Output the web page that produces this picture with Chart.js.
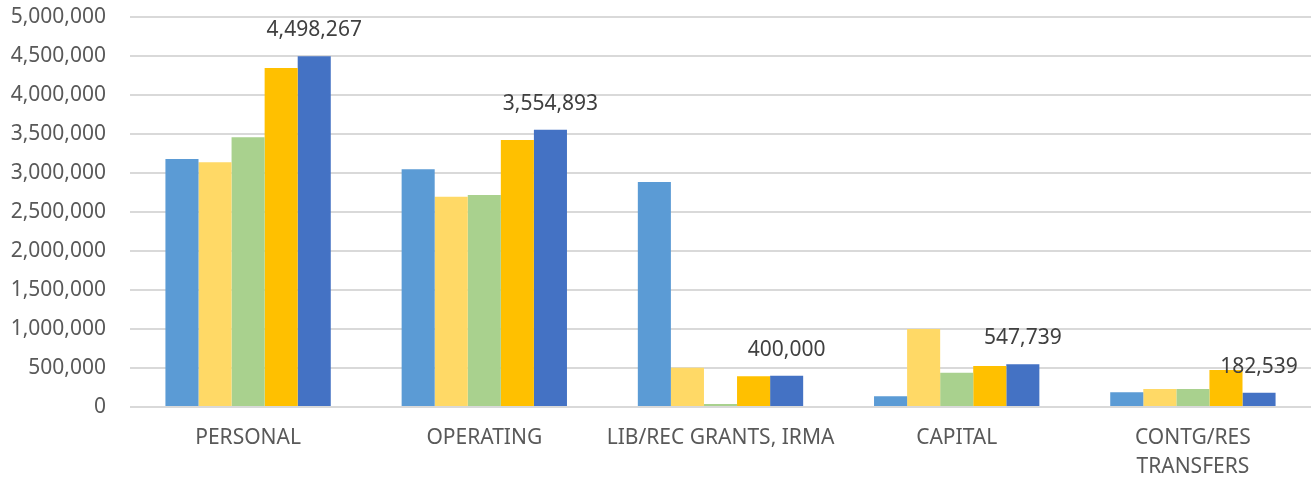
<!DOCTYPE html>
<html>
<head>
<meta charset="utf-8">
<script src="https://cdn.jsdelivr.net/npm/chart.js@4/dist/chart.umd.min.js"></script>
<style>
  html, body { margin: 0; padding: 0; background: #ffffff; }
  #wrap { width: 1313px; height: 481px; position: relative; }
</style>
</head>
<body>
<div id="wrap"><canvas id="c"></canvas></div>
<script>
const categories = ['PERSONAL', 'OPERATING', 'LIB/REC GRANTS, IRMA', 'CAPITAL', ['CONTG/RES', 'TRANSFERS']];
const series1 = [3180000, 3047000, 2884000, 137000, 188000];
const series2 = [3137000, 2696000, 504000, 1000000, 231000];
const series3 = [3457000, 2718000, 40000, 440000, 231000];
const series4 = [4346000, 3423000, 395000, 526000, 474000];
const series5 = [4498267, 3554893, 400000, 547739, 182539];
const yTicks = [0, 500000, 1000000, 1500000, 2000000, 2500000, 3000000, 3500000, 4000000, 4500000, 5000000];

const colors = ['#5B9BD5', '#FFD966', '#A9D18E', '#FFC000', '#4472C4'];
const FONT = "'Noto Sans', 'Open Sans', sans-serif";
const fmt = v => Number(v).toLocaleString('en-US');

const lastLabels = {
  id: 'lastLabels',
  afterDatasetsDraw(chart) {
    const idx = chart.data.datasets.length - 1;
    const meta = chart.getDatasetMeta(idx);
    const ctx = chart.ctx;
    ctx.save();
    ctx.font = '21px ' + FONT;
    ctx.fillStyle = '#404040';
    ctx.textAlign = 'center';
    ctx.textBaseline = 'middle';
    meta.data.forEach((bar, i) => {
      ctx.fillText(fmt(chart.data.datasets[idx].data[i]), bar.x, bar.y - 26);
    });
    ctx.restore();
  }
};

new Chart(document.getElementById('c'), {
  type: 'bar',
  data: {
    labels: categories,
    datasets: [series1, series2, series3, series4, series5].map((d, i) => ({
      label: 'Series ' + (i + 1),
      data: d,
      backgroundColor: colors[i],
      borderWidth: 0,
      categoryPercentage: 0.70,
      barPercentage: 1.0
    }))
  },
  options: {
    responsive: true,
    maintainAspectRatio: false,
    animation: false,
    layout: { padding: { top: 17, right: 2, left: 0, bottom: 0 } },
    plugins: {
      legend: { display: false },
      title: { display: false },
      tooltip: { enabled: false }
    },
    scales: {
      x: {
        grid: { display: false, drawTicks: false },
        border: { display: false },
        ticks: {
          color: '#595959',
          font: { family: FONT, size: 21, lineHeight: 1.35 },
          padding: 17,
          maxRotation: 0,
          autoSkip: false
        },
        afterFit(scale) { scale.height = 74; scale.paddingLeft = 0; scale.paddingRight = 0; }
      },
      y: {
        min: 0,
        max: 5000000,
        afterBuildTicks(scale) { scale.ticks = yTicks.map(v => ({ value: v })); },
        grid: { color: '#D9D9D9', lineWidth: 2, drawTicks: false },
        border: { display: false },
        ticks: {
          color: '#595959',
          font: { family: FONT, size: 21 },
          padding: 24,
          callback: v => fmt(v)
        },
        afterFit(scale) { scale.width = 130; scale.paddingTop = 0; scale.paddingBottom = 0; }
      }
    }
  },
  plugins: [lastLabels]
});
</script>
</body>
</html>
